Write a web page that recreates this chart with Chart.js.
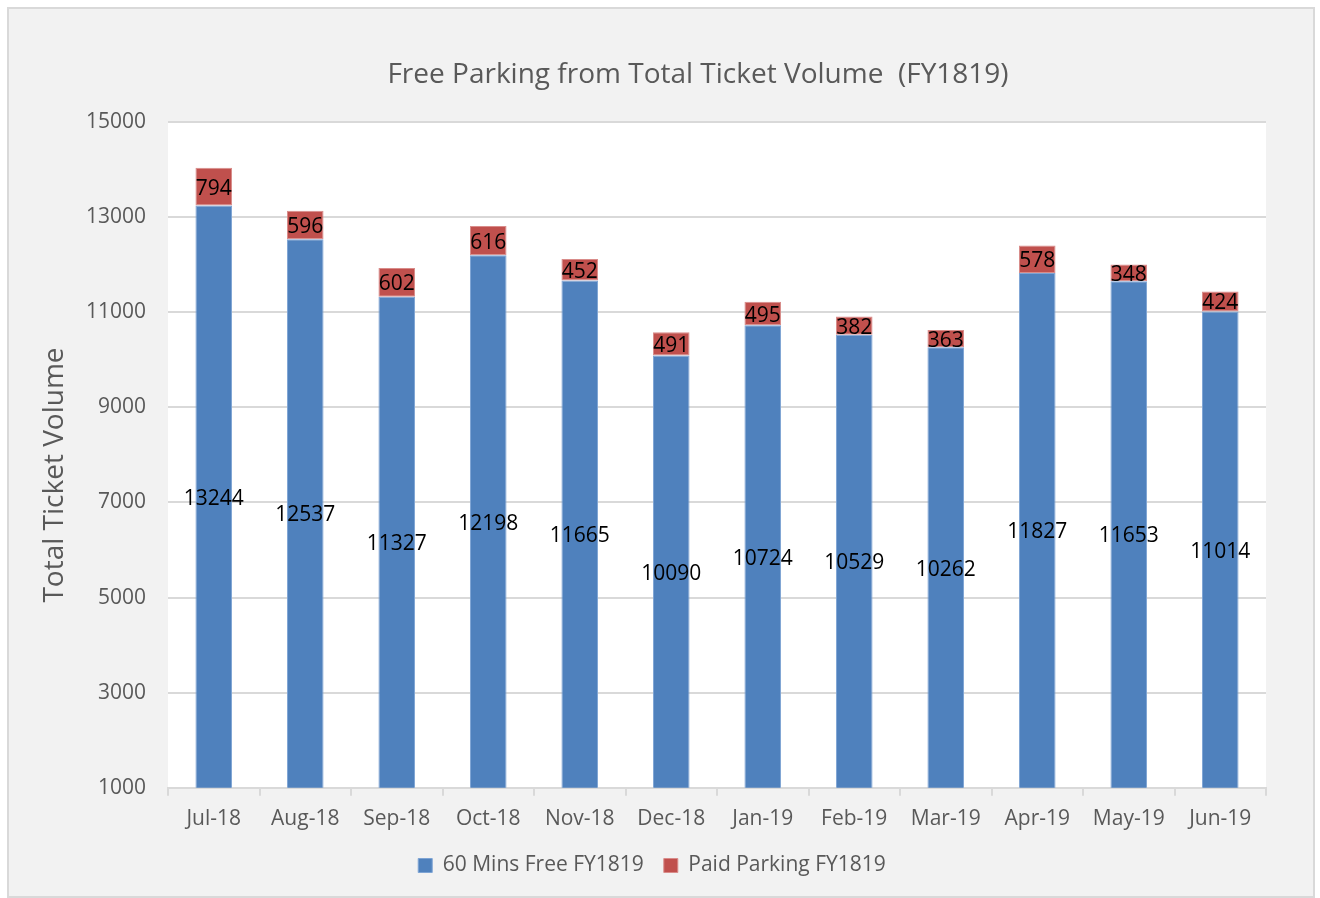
<!DOCTYPE html>
<html>
<head>
<meta charset="utf-8">
<script src="https://cdn.jsdelivr.net/npm/chart.js@4"></script>
<style>
  html, body { margin: 0; padding: 0; background: #fff; }
  #frame {
    position: absolute; left: 7px; top: 7px; width: 1304px; height: 887px;
    border: 2px solid #d9d9d9; background: #f2f2f2;
  }
  #wrap { position: absolute; left: 0; top: 0; width: 1320px; height: 898px; }
</style>
</head>
<body>
<div id="frame"></div>
<div id="wrap"><canvas id="chartCanvas"></canvas></div>
<script>
const months = ['Jul-18', 'Aug-18', 'Sep-18', 'Oct-18', 'Nov-18', 'Dec-18',
                'Jan-19', 'Feb-19', 'Mar-19', 'Apr-19', 'May-19', 'Jun-19'];
const freeParking = [13244, 12537, 11327, 12198, 11665, 10090, 10724, 10529, 10262, 11827, 11653, 11014];
const paidParking = [794, 596, 602, 616, 452, 491, 495, 382, 363, 578, 348, 424];
const yMin = 1000;
const yMax = 15000;
const yStep = 2000;
const chartTitle = 'Free Parking from Total Ticket Volume  (FY1819)';
const yTitle = 'Total Ticket Volume';

const textGray = '#595959';
const fontFamily = '"Open Sans", sans-serif';

// white plot area on the grey frame, plus the titles (placed like the original)
const plotBg = {
    id: 'plotBg',
    beforeDraw(chart) {
        const a = chart.chartArea;
        const ctx = chart.ctx;
        ctx.save();
        ctx.fillStyle = '#ffffff';
        ctx.fillRect(a.left, a.top, a.right - a.left, a.bottom - a.top);
        ctx.fillStyle = textGray;
        ctx.font = '28px ' + fontFamily;
        ctx.textAlign = 'center';
        ctx.textBaseline = 'middle';
        ctx.fillText(chartTitle, 698, 75);
        ctx.translate(55, 475);
        ctx.rotate(-Math.PI / 2);
        ctx.fillText(yTitle, 0, 0);
        ctx.restore();
    }
};

// value labels centred in the visible part of each segment
const barLabels = {
    id: 'barLabels',
    afterDatasetsDraw(chart) {
        const ctx = chart.ctx;
        const a = chart.chartArea;
        ctx.save();
        ctx.fillStyle = '#000000';
        ctx.font = '21px ' + fontFamily;
        ctx.textAlign = 'center';
        ctx.textBaseline = 'middle';
        chart.data.datasets.forEach((ds, i) => {
            chart.getDatasetMeta(i).data.forEach((bar, j) => {
                const top = Math.max(bar.y, a.top);
                const bottom = Math.min(bar.base, a.bottom);
                ctx.fillText(String(ds.data[j]), bar.x, (top + bottom) / 2 + 2);
            });
        });
        ctx.restore();
    }
};

new Chart(document.getElementById('chartCanvas'), {
    type: 'bar',
    data: {
        labels: months,
        datasets: [
            { label: '60 Mins Free FY1819', data: freeParking, backgroundColor: '#4f81bd',
              borderColor: '#7ea4d4', borderWidth: 1, borderSkipped: false },
            { label: 'Paid Parking FY1819', data: paidParking, backgroundColor: '#c0504d',
              borderColor: '#d98c8a', borderWidth: 1, borderSkipped: false }
        ]
    },
    plugins: [plotBg, barLabels],
    options: {
        responsive: true,
        maintainAspectRatio: false,
        animation: false,
        layout: { padding: { left: 38, right: 54, top: 122, bottom: 12 } },
        datasets: { bar: { barPercentage: 0.4, categoryPercentage: 1 } },
        scales: {
            x: {
                stacked: true,
                afterFit: scale => { scale.height = scale.height - 8; },
                grid: { drawOnChartArea: false, tickLength: 8, color: '#d9d9d9', lineWidth: 2 },
                border: { color: '#d9d9d9', width: 2 },
                ticks: { color: textGray, font: { family: fontFamily, size: 21 }, padding: 11, maxRotation: 0 }
            },
            y: {
                stacked: true,
                min: yMin,
                max: yMax,
                afterFit: scale => { scale.width = 130; },
                ticks: { stepSize: yStep, color: textGray, font: { family: fontFamily, size: 21 }, padding: 22,
                         callback: v => String(v) },
                grid: { color: '#d9d9d9', lineWidth: 2, drawTicks: false },
                border: { display: false }
            }
        },
        plugins: {
            title: { display: false },
            legend: {
                position: 'bottom',
                labels: { color: textGray, font: { family: fontFamily, size: 21 },
                          boxWidth: 14, boxHeight: 14, padding: 20 }
            },
            tooltip: { enabled: false }
        }
    }
});
</script>
</body>
</html>
